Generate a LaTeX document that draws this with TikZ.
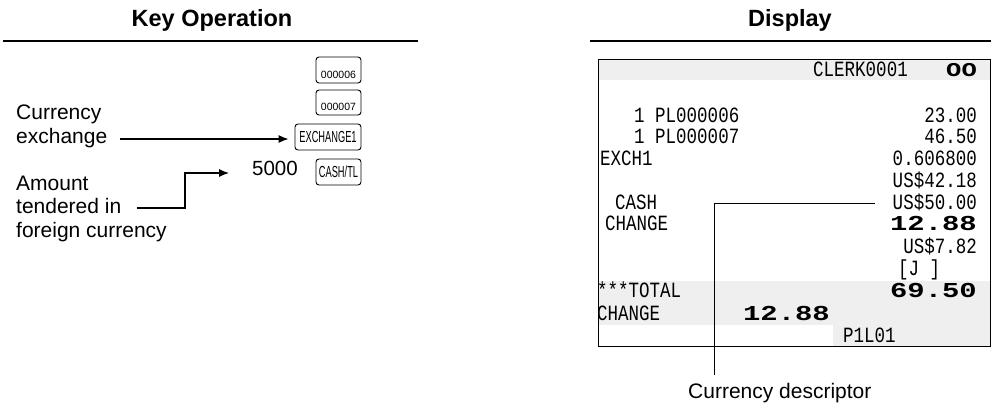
\documentclass[tikz,border=0pt]{standalone}
\usepackage{graphicx}
\usepackage{fontspec}
\setmainfont{Liberation Sans}
\newfontfamily\dispfont{Liberation Mono}
\usepackage{tikz}
\usetikzlibrary{arrows.meta}
\definecolor{bandc}{HTML}{EFEFEF}
\newcommand{\dsp}[1]{\scalebox{1.03}[1.28]{#1}}
\newcommand{\dbig}[1]{\scalebox{1.7}[1.25]{\bfseries #1}}
\newcommand{\cond}[1]{\scalebox{0.58}[1]{#1}}
\tikzset{
  ar/.style={-{Latex[length=10pt,width=8pt]},line width=1.1pt},
  keycap/.style={draw,line width=0.9pt,rounded corners=3pt,inner sep=1pt,font=\fontsize{16}{16}\selectfont},
  keysmall/.style={keycap,font=\fontsize{10.5}{11}\selectfont,text height=17pt,text depth=1pt},
  lbl/.style={font=\fontsize{21}{23.5}\selectfont,align=left,inner sep=0pt},
  hdr/.style={font=\fontsize{23.5}{23.5}\selectfont\bfseries,inner sep=0pt},
  dtxt/.style={font=\dispfont\fontsize{17}{17}\selectfont,inner sep=0pt},
  rulel/.style={line width=2pt}
}
\begin{document}
\begin{tikzpicture}[x=1pt,y=-1pt]
\useasboundingbox (0,0) rectangle (991,404);
% headings
\node[hdr,anchor=base] (hkey) at (212,27) {Key Operation};
\node[hdr,anchor=base] (hdisp) at (790,27) {Display};
\draw[rulel] (3,41) -- (418,41);
\draw[rulel] (590,41) -- (991,41);
% keys
\node[keysmall,minimum width=45pt,minimum height=26pt] (k6) at (338.5,70) {000006};
\node[keysmall,minimum width=45pt,minimum height=25pt] (k7) at (338.5,102.5) {000007};
\node[keycap,minimum width=66pt,minimum height=26pt] (kex) at (328,137) {\cond{EXCHANGE1}};
\node[keycap,minimum width=45pt,minimum height=26pt] (kcash) at (338.5,172) {\cond{CASH/TL}};
\node[lbl,font=\fontsize{20.5}{21}\selectfont,anchor=base east] (amt) at (298,175) {5000};
\node[lbl,anchor=base west] (lcur) at (16,143) {Currency\\exchange};
\node[lbl,anchor=base west] (lamt) at (16,237) {Amount\\tendered in\\foreign currency};
\coordinate (exfrom) at (120,139);
\draw[ar,shorten >=6pt] (exfrom) -- (exfrom -| kex.west);
\coordinate (amfrom) at (137,208);
\coordinate (amturn) at (185,173);
\coordinate (amto) at (229,173);
\draw[ar] (amfrom) -| (amturn) -- (amto);
% display
\fill[bandc] (598,60) rectangle (990,80);
\fill[bandc] (598,281) rectangle (990,325);
\fill[bandc] (833,325) rectangle (990,346);
\draw[line width=1pt] (598,60) rectangle (990,346);
\node[dtxt,anchor=base west] (clerk) at (813,77) {\dsp{CLERK0001}};
\node[dtxt,anchor=base east] (mode) at (977,77) {\scalebox{1.5}[1.15]{\bfseries OO}};
\node[dtxt,anchor=base west] (pl6) at (634,122) {\dsp{1 PL000006}};
\node[dtxt,anchor=base east] (am6) at (977,122) {\dsp{23.00}};
\node[dtxt,anchor=base west] (pl7) at (634,143) {\dsp{1 PL000007}};
\node[dtxt,anchor=base east] (am7) at (977,143) {\dsp{46.50}};
\node[dtxt,anchor=base west] (exch) at (600,165) {\dsp{EXCH1}};
\node[dtxt,anchor=base east] (rate) at (977,165) {\dsp{0.606800}};
\node[dtxt,anchor=base east] (us42) at (977,187) {\dsp{US\$42.18}};
\node[dtxt,anchor=base west] (cash) at (615,209) {\dsp{CASH}};
\node[dtxt,anchor=base east] (us50) at (977,209) {\dsp{US\$50.00}};
\node[dtxt,anchor=base west] (chg) at (605,230) {\dsp{CHANGE}};
\node[dtxt,anchor=base east] (chgv) at (977,230) {\dbig{12.88}};
\node[dtxt,anchor=base east] (us7) at (977,253) {\dsp{US\$7.82}};
\node[dtxt,anchor=base west] (jrn) at (898,275) {\dsp{[J ]}};
\node[dtxt,anchor=base west] (tot) at (597,297) {\dsp{***TOTAL}};
\node[dtxt,anchor=base east] (totv) at (977,297) {\dbig{69.50}};
\node[dtxt,anchor=base west] (chg2) at (597,320) {\dsp{CHANGE}};
\node[dtxt,anchor=base east] (chg2v) at (830,320) {\dbig{12.88}};
\node[dtxt,anchor=base west] (plno) at (843,342) {\dsp{P1L01}};
% descriptor callout
\node[lbl,anchor=base west] (cdesc) at (688,398) {Currency descriptor};
\coordinate (cdfrom) at (875,203);
\coordinate (cdturn) at (714,203);
\draw[line width=1pt,shorten >=8pt] (cdfrom) -- (cdturn) -- (cdturn |- cdesc.north);
\end{tikzpicture}
\end{document}
